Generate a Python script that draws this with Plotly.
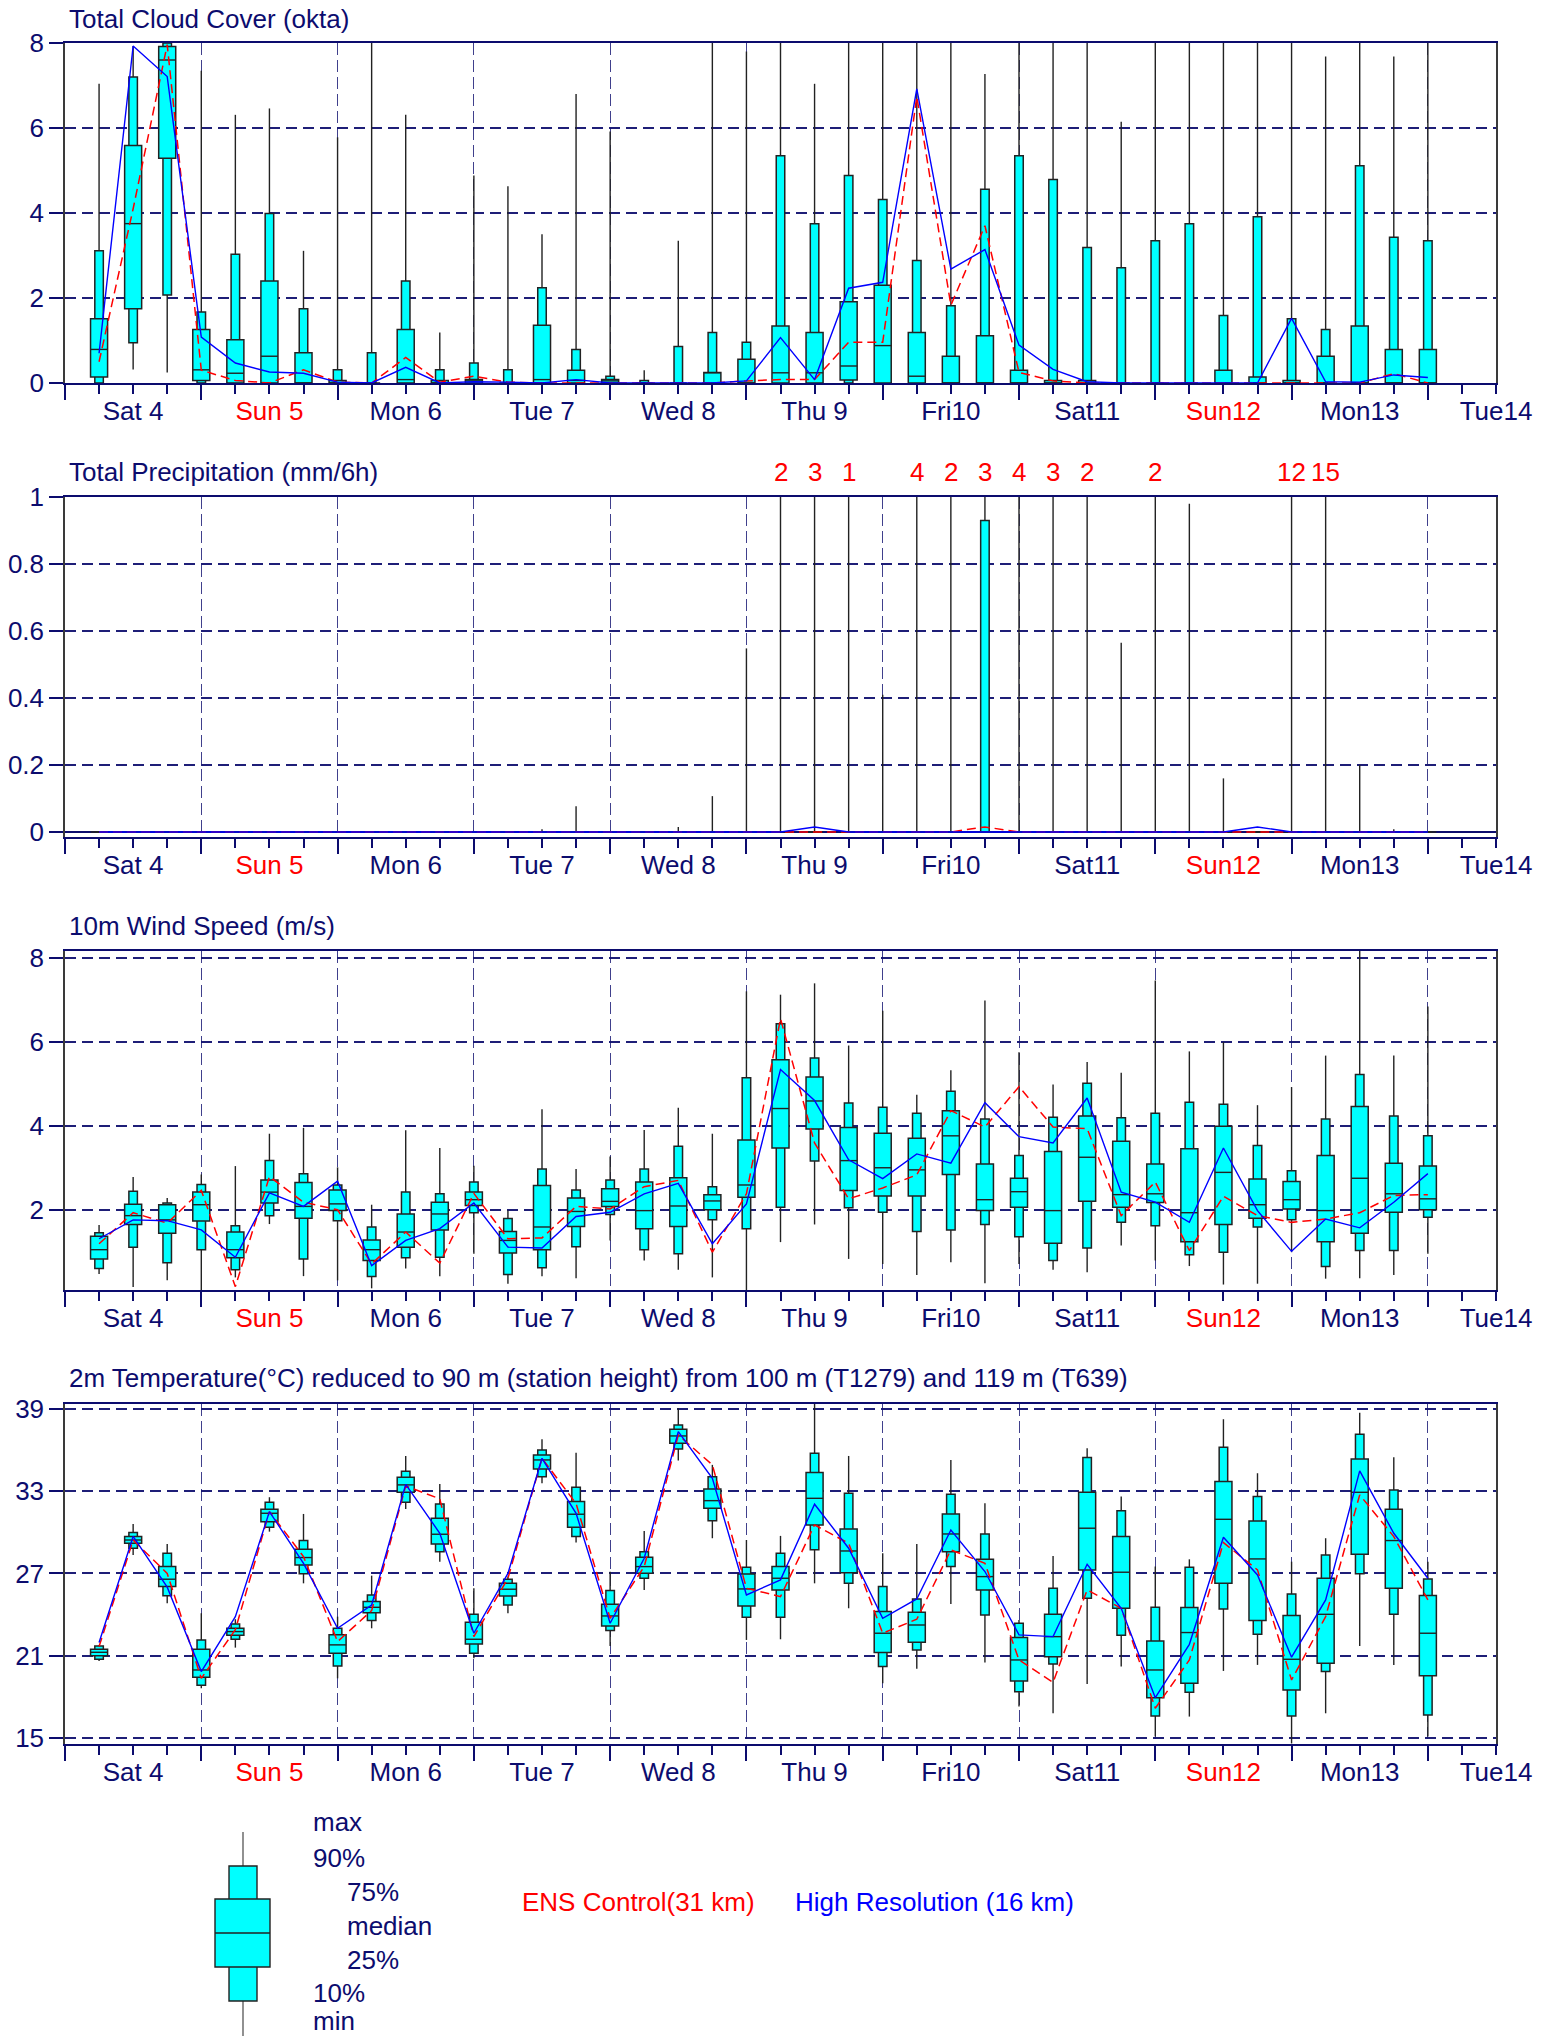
import plotly.graph_objects as go

W, H = 1546, 2038
NAVY = "#0c0c6e"
GRID = "rgba(18,18,112,0.95)"
VGRID = "rgba(30,30,120,0.85)"
CYAN = "#00FFFF"
EDGE = "#222222"
RED = "#FF0000"
BLUE = "#0000FF"
FONT = "Liberation Sans, Arial, sans-serif"

# ---------------- time axis ----------------
hours = [6, 12, 18, 24, 30, 36, 42, 48, 54, 60, 66, 72, 78, 84, 90, 96, 102, 108, 114, 120,
         126, 132, 138, 144, 150, 156, 162, 168, 174, 180, 186, 192, 198, 204, 210, 216, 222, 228, 234, 240]
day_labels = ["Sat 4", "Sun 5", "Mon 6", "Tue 7", "Wed 8", "Thu 9", "Fri10", "Sat11", "Sun12", "Mon13", "Tue14"]
day_is_sunday = [False, True, False, False, False, False, False, False, True, False, False]

# ---------------- Total cloud cover (okta) ----------------
cloud_max = [7.04, 7.93, 8.0, 7.35, 6.31, 6.46, 3.11, 5.78, 8.0, 6.31, 1.19, 4.88, 4.63, 3.5, 6.8, 5.92, 0.30, 3.35, 8.0, 7.8,
             8.0, 7.04, 8.0, 8.0, 8.0, 8.0, 7.27, 8.0, 8.0, 8.0, 6.15, 8.0, 8.0, 8.0, 8.0, 8.0, 7.68, 8.0, 7.68, 8.0]
cloud_p90 = [3.11, 7.2, 8.0, 1.67, 3.03, 3.99, 1.75, 0.31, 0.71, 2.40, 0.31, 0.47, 0.31, 2.24, 0.79, 0.16, 0.06, 0.86, 1.19, 0.96,
             5.35, 3.75, 4.88, 4.32, 2.88, 1.82, 4.56, 5.35, 4.79, 3.19, 2.71, 3.35, 3.75, 1.59, 3.91, 1.51, 1.26, 5.11, 3.43, 3.35]
cloud_p75 = [1.51, 5.59, 7.92, 1.26, 1.02, 2.40, 0.71, 0.06, 0.0, 1.26, 0.06, 0.08, 0.0, 1.36, 0.30, 0.08, 0.0, 0.0, 0.25, 0.56,
             1.34, 1.19, 1.91, 2.30, 1.19, 0.63, 1.11, 0.30, 0.06, 0.06, 0.0, 0.0, 0.0, 0.30, 0.14, 0.06, 0.63, 1.34, 0.79, 0.79]
cloud_med = [0.79, 3.75, 7.6, 0.31, 0.23, 0.63, 0.0, 0.0, 0.0, 0.08, 0.0, 0.05, 0.0, 0.08, 0.06, 0.05, 0.0, 0.0, 0.24, 0.0,
             0.24, 0.24, 0.40, 0.88, 0.16, 0.0, 0.0, 0.0, 0.0, 0.0, 0.0, 0.0, 0.0, 0.0, 0.0, 0.0, 0.0, 0.0, 0.0, 0.0]
cloud_p25 = [0.14, 1.75, 5.29, 0.06, 0.0, 0.0, 0.0, 0.0, 0.0, 0.0, 0.0, 0.0, 0.0, 0.0, 0.0, 0.0, 0.0, 0.0, 0.0, 0.0,
             0.0, 0.0, 0.07, 0.0, 0.0, 0.0, 0.0, 0.0, 0.0, 0.0, 0.0, 0.0, 0.0, 0.0, 0.0, 0.0, 0.0, 0.0, 0.0, 0.0]
cloud_p10 = [0.0, 0.95, 2.07, 0.0, 0.0, 0.0, 0.0, 0.0, 0.0, 0.0, 0.0, 0.0, 0.0, 0.0, 0.0, 0.0, 0.0, 0.0, 0.0, 0.0,
             0.0, 0.0, 0.0, 0.0, 0.0, 0.0, 0.0, 0.0, 0.0, 0.0, 0.0, 0.0, 0.0, 0.0, 0.0, 0.0, 0.0, 0.0, 0.0, 0.0]
cloud_min = [0.0, 0.32, 0.25, 0.0, 0.0, 0.0, 0.0, 0.0, 0.0, 0.0, 0.0, 0.0, 0.0, 0.0, 0.0, 0.0, 0.0, 0.0, 0.0, 0.0,
             0.0, 0.0, 0.0, 0.0, 0.0, 0.0, 0.0, 0.0, 0.0, 0.0, 0.0, 0.0, 0.0, 0.0, 0.0, 0.0, 0.0, 0.0, 0.0, 0.0]
cloud_ens = [0.5, 4.1, 7.96, 0.3, 0.06, 0.0, 0.31, 0.02, 0.0, 0.6, 0.02, 0.16, 0.02, 0.0, 0.0, 0.0, 0.0, 0.0, 0.0, 0.05,
             0.08, 0.08, 0.96, 0.96, 6.74, 1.83, 3.70, 0.25, 0.05, 0.0, 0.0, 0.0, 0.0, 0.0, 0.0, 0.0, 0.0, 0.0, 0.22, 0.0]
cloud_hres = [0.7, 7.93, 7.21, 1.08, 0.47, 0.26, 0.23, 0.02, 0.0, 0.37, 0.0, 0.03, 0.02, 0.0, 0.08, 0.0, 0.0, 0.0, 0.0, 0.05,
              1.07, 0.08, 2.23, 2.37, 6.92, 2.68, 3.14, 0.89, 0.32, 0.03, 0.0, 0.0, 0.0, 0.0, 0.0, 1.52, 0.03, 0.02, 0.19, 0.13]

# ---------------- Total precipitation (mm/6h) ----------------
prec_max = [0.0, 0.0, 0.0, 0.0, 0.0, 0.0, 0.0, 0.0, 0.0, 0.0, 0.0, 0.0, 0.0, 0.008, 0.077, 0.0, 0.0, 0.015, 0.107, 0.548,
            2.2, 3.1, 1.3, 0.41, 4.1, 2.2, 3.2, 4.2, 3.1, 2.3, 0.565, 2.1, 0.98, 0.16, 0.0, 12.4, 15.2, 0.2, 0.008, 0.0]
prec_p90 = [0.0, 0.0, 0.0, 0.0, 0.0, 0.0, 0.0, 0.0, 0.0, 0.0, 0.0, 0.0, 0.0, 0.0, 0.0, 0.0, 0.0, 0.0, 0.0, 0.0,
            0.0, 0.0, 0.0, 0.0, 0.0, 0.0, 0.93, 0.0, 0.0, 0.0, 0.0, 0.0, 0.0, 0.0, 0.0, 0.0, 0.0, 0.0, 0.0, 0.0]
prec_p75 = [0.0, 0.0, 0.0, 0.0, 0.0, 0.0, 0.0, 0.0, 0.0, 0.0, 0.0, 0.0, 0.0, 0.0, 0.0, 0.0, 0.0, 0.0, 0.0, 0.0,
            0.0, 0.0, 0.0, 0.0, 0.0, 0.0, 0.0, 0.0, 0.0, 0.0, 0.0, 0.0, 0.0, 0.0, 0.0, 0.0, 0.0, 0.0, 0.0, 0.0]
prec_med = [0.0, 0.0, 0.0, 0.0, 0.0, 0.0, 0.0, 0.0, 0.0, 0.0, 0.0, 0.0, 0.0, 0.0, 0.0, 0.0, 0.0, 0.0, 0.0, 0.0,
            0.0, 0.0, 0.0, 0.0, 0.0, 0.0, 0.0, 0.0, 0.0, 0.0, 0.0, 0.0, 0.0, 0.0, 0.0, 0.0, 0.0, 0.0, 0.0, 0.0]
prec_p25 = [0.0, 0.0, 0.0, 0.0, 0.0, 0.0, 0.0, 0.0, 0.0, 0.0, 0.0, 0.0, 0.0, 0.0, 0.0, 0.0, 0.0, 0.0, 0.0, 0.0,
            0.0, 0.0, 0.0, 0.0, 0.0, 0.0, 0.0, 0.0, 0.0, 0.0, 0.0, 0.0, 0.0, 0.0, 0.0, 0.0, 0.0, 0.0, 0.0, 0.0]
prec_p10 = [0.0, 0.0, 0.0, 0.0, 0.0, 0.0, 0.0, 0.0, 0.0, 0.0, 0.0, 0.0, 0.0, 0.0, 0.0, 0.0, 0.0, 0.0, 0.0, 0.0,
            0.0, 0.0, 0.0, 0.0, 0.0, 0.0, 0.0, 0.0, 0.0, 0.0, 0.0, 0.0, 0.0, 0.0, 0.0, 0.0, 0.0, 0.0, 0.0, 0.0]
prec_min = [0.0, 0.0, 0.0, 0.0, 0.0, 0.0, 0.0, 0.0, 0.0, 0.0, 0.0, 0.0, 0.0, 0.0, 0.0, 0.0, 0.0, 0.0, 0.0, 0.0,
            0.0, 0.0, 0.0, 0.0, 0.0, 0.0, 0.0, 0.0, 0.0, 0.0, 0.0, 0.0, 0.0, 0.0, 0.0, 0.0, 0.0, 0.0, 0.0, 0.0]
prec_ens = [0.0, 0.0, 0.0, 0.0, 0.0, 0.0, 0.0, 0.0, 0.0, 0.0, 0.0, 0.0, 0.0, 0.0, 0.0, 0.0, 0.0, 0.0, 0.0, 0.0,
            0.0, 0.0, 0.0, 0.0, 0.0, 0.0, 0.015, 0.0, 0.0, 0.0, 0.0, 0.0, 0.0, 0.0, 0.0, 0.0, 0.0, 0.0, 0.0, 0.0]
prec_hres = [0.0, 0.0, 0.0, 0.0, 0.0, 0.0, 0.0, 0.0, 0.0, 0.0, 0.0, 0.0, 0.0, 0.0, 0.0, 0.0, 0.0, 0.0, 0.0, 0.0,
             0.0, 0.015, 0.0, 0.0, 0.0, 0.0, 0.0, 0.0, 0.0, 0.0, 0.0, 0.0, 0.0, 0.0, 0.015, 0.0, 0.0, 0.0, 0.0, 0.0]

# ---------------- 10m wind speed (m/s) ----------------
wind_max = [1.65, 2.79, 2.29, 2.85, 3.05, 3.82, 3.96, 3.02, 2.13, 3.90, 3.48, 3.06, 1.99, 4.40, 2.98, 3.28, 3.91, 4.44, 3.82, 7.21,
            7.13, 7.40, 5.92, 6.75, 4.75, 5.33, 6.99, 5.76, 4.99, 5.53, 5.27, 7.47, 5.78, 6.0, 4.50, 4.93, 5.68, 8.17, 5.68, 6.85]
wind_p90 = [1.46, 2.45, 2.17, 2.61, 1.63, 3.18, 2.87, 2.60, 1.60, 2.43, 2.39, 2.67, 1.80, 2.98, 2.48, 2.72, 2.98, 3.52, 2.56, 5.15,
            6.44, 5.62, 4.55, 4.45, 4.31, 4.83, 4.17, 3.30, 4.21, 5.02, 4.20, 4.31, 4.57, 4.52, 3.54, 2.94, 4.17, 5.23, 4.24, 3.77]
wind_p75 = [1.38, 2.14, 2.13, 2.43, 1.48, 2.72, 2.66, 2.48, 1.29, 1.91, 2.19, 2.43, 1.49, 2.59, 2.29, 2.51, 2.67, 2.77, 2.37, 3.67,
            5.58, 5.17, 3.97, 3.83, 3.71, 4.37, 3.10, 2.76, 3.40, 4.24, 3.64, 3.10, 3.46, 4.0, 2.74, 2.68, 3.30, 4.47, 3.12, 3.05]
wind_med = [1.06, 1.87, 1.77, 2.13, 1.06, 2.43, 2.09, 2.15, 1.06, 1.48, 1.91, 2.25, 1.28, 1.60, 1.97, 2.21, 1.99, 2.10, 2.22, 2.60,
            4.42, 4.60, 3.18, 3.01, 2.96, 3.77, 2.25, 2.44, 1.99, 3.26, 2.37, 2.39, 1.94, 2.90, 2.13, 2.25, 1.99, 2.76, 2.39, 2.27]
wind_p25 = [0.84, 1.66, 1.45, 1.74, 0.87, 2.17, 1.81, 1.99, 0.80, 1.12, 1.53, 2.11, 0.98, 1.06, 1.61, 2.09, 1.56, 1.61, 2.01, 2.31,
            3.48, 3.93, 2.47, 2.34, 2.34, 2.85, 1.99, 2.07, 1.21, 2.21, 2.07, 2.18, 1.25, 1.66, 1.81, 2.03, 1.25, 1.45, 1.95, 2.01]
wind_p10 = [0.61, 1.12, 0.75, 1.06, 0.58, 1.87, 0.84, 1.75, 0.42, 0.87, 0.88, 1.94, 0.47, 0.63, 1.13, 1.90, 1.06, 0.96, 1.77, 1.56,
            2.07, 3.17, 2.06, 1.95, 1.49, 1.53, 1.66, 1.37, 0.80, 1.10, 1.71, 1.63, 0.94, 1.0, 1.60, 1.77, 0.66, 1.04, 1.04, 1.83]
wind_min = [0.48, 0.17, 0.33, 0.09, 0.40, 1.67, 0.43, 0.33, 0.14, 0.61, 0.43, 0.96, 0.25, 0.43, 0.38, 1.28, 0.80, 0.58, 0.40, 0.09,
            1.24, 1.66, 0.84, 0.72, 0.46, 0.76, 0.26, 0.72, 0.58, 0.52, 1.16, 0.80, 0.67, 0.23, 0.25, 1.0, 0.37, 0.38, 0.46, 0.96]
wind_ens = [1.2, 1.94, 1.69, 2.47, 0.18, 2.80, 2.19, 2.01, 0.72, 1.48, 0.74, 2.40, 1.32, 1.34, 2.09, 2.03, 2.56, 2.71, 1.0, 2.39,
            6.56, 3.6, 2.27, 2.53, 2.84, 4.37, 3.98, 4.94, 3.98, 3.94, 1.87, 2.67, 1.04, 2.33, 1.87, 1.71, 1.79, 1.94, 2.35, 2.37]
wind_hres = [1.32, 1.77, 1.75, 1.53, 0.88, 2.41, 2.09, 2.69, 0.68, 1.28, 1.56, 2.17, 1.12, 1.10, 1.85, 1.95, 2.39, 2.64, 1.2, 2.15,
             5.35, 4.61, 3.20, 2.75, 3.34, 3.12, 4.56, 3.75, 3.60, 4.67, 2.43, 2.19, 1.71, 3.48, 1.99, 1.02, 1.79, 1.58, 2.19, 2.87]

# ---------------- 2m temperature (°C) ----------------
temp_max = [21.76, 30.61, 29.15, 24.1, 23.66, 32.56, 31.34, 23.85, 26.84, 35.57, 33.53, 25.92, 26.77, 36.79, 35.81, 27.13, 30.10, 39.05, 34.92, 29.44,
            29.74, 39.36, 35.57, 28.47, 29.15, 35.28, 32.12, 23.6, 28.28, 36.13, 32.61, 27.5, 28.03, 38.25, 34.31, 27.86, 29.57, 38.73, 35.47, 27.86]
temp_p90 = [21.7, 29.98, 28.47, 22.15, 23.32, 32.19, 29.40, 23.0, 25.43, 34.45, 32.07, 24.02, 26.58, 36.01, 33.29, 25.75, 28.59, 37.83, 34.06, 27.45,
            28.47, 35.77, 32.85, 26.04, 25.14, 32.78, 29.88, 23.37, 25.92, 35.45, 31.58, 24.53, 27.45, 36.20, 32.61, 25.51, 28.35, 37.15, 33.09, 26.60]
temp_p75 = [21.47, 29.69, 27.5, 21.47, 23.0, 31.68, 28.76, 22.52, 24.95, 34.02, 31.03, 23.44, 26.28, 35.64, 32.24, 24.75, 28.18, 37.52, 33.16, 26.96,
            27.5, 34.36, 30.25, 24.22, 24.17, 31.34, 28.03, 22.32, 24.02, 32.92, 29.69, 22.08, 24.51, 33.70, 30.83, 23.93, 26.65, 35.35, 31.68, 25.39]
temp_med = [21.25, 29.44, 26.58, 19.96, 22.76, 31.39, 28.16, 21.79, 24.53, 33.46, 29.86, 22.2, 25.85, 35.28, 31.32, 23.90, 27.50, 37.03, 32.31, 25.87,
            26.65, 32.48, 28.64, 22.64, 23.24, 29.88, 26.77, 20.69, 22.39, 30.30, 27.09, 19.96, 22.69, 30.95, 28.06, 20.74, 24.02, 32.92, 29.40, 22.64]
temp_p25 = [21.0, 29.2, 26.04, 19.43, 22.49, 30.78, 27.62, 21.18, 24.14, 32.92, 29.15, 21.86, 25.36, 34.62, 30.37, 23.17, 27.01, 36.50, 31.75, 24.63,
            25.80, 30.54, 27.06, 21.23, 21.98, 28.59, 25.80, 19.16, 20.93, 27.26, 24.46, 17.94, 19.0, 26.28, 23.56, 18.50, 20.45, 28.40, 25.92, 19.53]
temp_p10 = [20.74, 28.84, 25.38, 18.84, 22.2, 30.37, 26.97, 20.25, 23.56, 32.19, 28.59, 21.18, 24.70, 34.06, 29.69, 22.83, 26.65, 36.08, 30.85, 23.80,
            23.80, 28.72, 26.28, 20.21, 21.42, 27.5, 23.97, 18.38, 20.40, 25.19, 22.49, 16.61, 18.33, 24.41, 22.56, 16.61, 19.84, 26.97, 24.02, 16.68]
temp_min = [20.62, 28.35, 24.83, 18.63, 21.59, 30.05, 26.28, 19.35, 23.0, 31.71, 27.86, 20.81, 24.10, 33.58, 29.25, 21.71, 25.80, 35.23, 29.57, 22.15,
            22.2, 26.28, 24.46, 19.0, 20.04, 24.78, 20.5, 17.29, 16.80, 18.94, 20.21, 15.10, 16.56, 19.89, 20.33, 14.6, 16.80, 21.71, 20.33, 15.10]
temp_ens = [21.67, 29.44, 27.0, 19.35, 22.9, 31.51, 28.23, 22.03, 24.29, 33.38, 32.44, 22.39, 26.65, 35.40, 32.1, 23.73, 27.5, 37.1, 34.92, 25.92,
            25.31, 30.54, 29.2, 22.64, 23.66, 28.72, 27.74, 20.69, 19.06, 25.80, 24.46, 17.17, 20.69, 29.25, 27.26, 19.23, 23.85, 32.73, 29.69, 25.07]
temp_hres = [21.96, 29.7, 26.0, 19.84, 23.85, 31.51, 27.74, 23.0, 24.7, 33.5, 29.93, 22.64, 27.0, 35.40, 31.39, 23.37, 28.11, 37.35, 33.94, 25.43,
             26.53, 32.05, 28.84, 23.73, 25.14, 30.17, 27.14, 22.52, 22.39, 27.67, 24.46, 17.94, 21.83, 29.64, 26.89, 20.89, 25.07, 34.48, 29.93, 26.65]

# ---------------- layout geometry (pixels of the 1546x2038 page) ----------------
PLOT_L, PLOT_R = 65, 1496
panels = [
    dict(title="Total Cloud Cover (okta)", top=43, bottom=383, title_y=19,
         rng=[0, 8], tickvals=[0, 2, 4, 6, 8], ticktext=["0", "2", "4", "6", "8"], zeroline=False,
         data=(cloud_min, cloud_p10, cloud_p25, cloud_med, cloud_p75, cloud_p90, cloud_max, cloud_ens, cloud_hres)),
    dict(title="Total Precipitation (mm/6h)", top=497, bottom=837, title_y=472,
         rng=[-0.015, 1.0], tickvals=[0, 0.2, 0.4, 0.6, 0.8, 1.0], ticktext=["0", "0.2", "0.4", "0.6", "0.8", "1"], zeroline=True,
         data=(prec_min, prec_p10, prec_p25, prec_med, prec_p75, prec_p90, prec_max, prec_ens, prec_hres)),
    dict(title="10m Wind Speed (m/s)", top=951, bottom=1290, title_y=926,
         rng=[0.1, 8.17], tickvals=[2, 4, 6, 8], ticktext=["2", "4", "6", "8"], zeroline=False,
         data=(wind_min, wind_p10, wind_p25, wind_med, wind_p75, wind_p90, wind_max, wind_ens, wind_hres)),
    dict(title="2m Temperature(°C) reduced to 90 m (station height) from 100 m (T1279) and 119 m (T639)",
         top=1404, bottom=1744, title_y=1378,
         rng=[14.56, 39.36], tickvals=[15, 21, 27, 33, 39], ticktext=["15", "21", "27", "33", "39"], zeroline=False,
         data=(temp_min, temp_p10, temp_p25, temp_med, temp_p75, temp_p90, temp_max, temp_ens, temp_hres)),
]

NARROW_W = 1.5   # hours
WIDE_W = 3.0     # hours

# x-axis ticks: short ticks every 6 h (labels at noon), long ticks at day boundaries
day_bounds = [24 * d for d in range(11)]
six_hourly = [h for h in range(6, 253, 6) if h % 24 != 0]
label_text = []
for h in six_hourly:
    if h % 24 == 12:
        d = h // 24
        lab = day_labels[d]
        if day_is_sunday[d]:
            lab = "<span style='color:#FF0000'>" + lab + "</span>"
        label_text.append(lab)
    else:
        label_text.append("")


def px2x(px):
    return px / W


def px2y(py):
    return 1 - py / H


fig = go.Figure()
annotations = []
layout_axes = {}

for k, p in enumerate(panels, start=1):
    xa = "x" if k == 1 else f"x{k}"
    ya = "y" if k == 1 else f"y{k}"
    mn, p10, p25, med, p75, p90, mx, ens, hres = p["data"]

    # whiskers (outside the narrow box)
    wx, wy = [], []
    for t, a, b, c, d in zip(hours, mn, p10, p90, mx):
        if d > c:
            wx += [t, t, None]
            wy += [c, d, None]
        if b > a:
            wx += [t, t, None]
            wy += [a, b, None]
    fig.add_trace(go.Scatter(x=wx, y=wy, mode="lines", line=dict(color=EDGE, width=1.4),
                             xaxis=xa, yaxis=ya, hoverinfo="skip", showlegend=False))
    # 10-90 % box
    fig.add_trace(go.Bar(x=hours, y=[b - a for a, b in zip(p10, p90)], base=p10, width=NARROW_W,
                         marker=dict(color=CYAN, line=dict(color=EDGE, width=1.5)),
                         xaxis=xa, yaxis=ya, showlegend=False, hoverinfo="skip"))
    # 25-75 % box
    fig.add_trace(go.Bar(x=hours, y=[b - a for a, b in zip(p25, p75)], base=p25, width=WIDE_W,
                         marker=dict(color=CYAN, line=dict(color=EDGE, width=1.5)),
                         xaxis=xa, yaxis=ya, showlegend=False, hoverinfo="skip"))
    # median
    mxs, mys = [], []
    for t, m, a, b in zip(hours, med, p25, p75):
        if b > a:
            mxs += [t - WIDE_W / 2, t + WIDE_W / 2, None]
            mys += [m, m, None]
    fig.add_trace(go.Scatter(x=mxs, y=mys, mode="lines", line=dict(color=EDGE, width=1.4),
                             xaxis=xa, yaxis=ya, hoverinfo="skip", showlegend=False))
    # ENS control & HRES
    fig.add_trace(go.Scatter(x=hours, y=ens, mode="lines", line=dict(color=RED, width=1.5, dash="9px,5px"),
                             xaxis=xa, yaxis=ya, showlegend=False, name="ENS Control(31 km)"))
    fig.add_trace(go.Scatter(x=hours, y=hres, mode="lines", line=dict(color=BLUE, width=1.4),
                             xaxis=xa, yaxis=ya, showlegend=False, name="High Resolution (16 km)"))

    if k == 2:
        # maxima beyond the axis top, printed in red above the panel
        for t, v in zip(hours, mx):
            if v > p["rng"][1]:
                annotations.append(dict(text=f"{v:.0f}", x=t, xref=xa, y=px2y(p["title_y"]), yref="paper",
                                        xanchor="center", yanchor="middle", showarrow=False,
                                        font=dict(family=FONT, size=26, color=RED)))

    xdom = [px2x(PLOT_L), px2x(PLOT_R)]
    ydom = [px2y(p["bottom"]), px2y(p["top"])]
    xkey = "xaxis" if k == 1 else f"xaxis{k}"
    ykey = "yaxis" if k == 1 else f"yaxis{k}"
    layout_axes[xkey] = dict(
        domain=xdom, range=[0, 252], anchor=ya, tickmode="array", automargin=False,
        tickvals=six_hourly, ticktext=label_text, ticks="outside", ticklen=9, tickwidth=1.5,
        tickcolor=NAVY, showgrid=False, zeroline=False, showline=True, linecolor=NAVY, linewidth=2,
        mirror=True, ticklabelstandoff=-5,
        tickfont=dict(family=FONT, size=26, color=NAVY),
        minor=dict(tickmode="array", tickvals=day_bounds, ticks="outside", ticklen=15, tickwidth=1.5,
                   tickcolor=NAVY, showgrid=True, gridcolor=VGRID, gridwidth=1.1, griddash="12px,5px"),
    )
    layout_axes[ykey] = dict(
        domain=ydom, range=p["rng"], anchor=xa, tickmode="array", tickvals=p["tickvals"], automargin=False,
        ticktext=p["ticktext"], ticks="outside", ticklen=14, tickwidth=1.5, tickcolor=NAVY,
        showgrid=True, gridcolor=GRID, gridwidth=1.6, griddash="11px,6px",
        zeroline=p["zeroline"], zerolinecolor=NAVY, zerolinewidth=1.6,
        showline=True, linecolor="#3a3a3a", linewidth=1.5, mirror=True,
        tickfont=dict(family=FONT, size=26, color=NAVY),
    )
    annotations.append(dict(text=p["title"], x=px2x(67), y=px2y(p["title_y"]), xref="paper", yref="paper",
                            xanchor="left", yanchor="middle", showarrow=False,
                            font=dict(family=FONT, size=26, color=NAVY)))

# ---------------- legend (illustration of the box glyph) ----------------
shapes = [
    dict(type="line", xref="paper", yref="paper", x0=px2x(243), x1=px2x(243), y0=px2y(1832), y1=px2y(2036),
         line=dict(color="#555555", width=1.3)),
    dict(type="rect", xref="paper", yref="paper", x0=px2x(229), x1=px2x(257), y0=px2y(2001), y1=px2y(1866),
         fillcolor=CYAN, line=dict(color=EDGE, width=1.4)),
    dict(type="rect", xref="paper", yref="paper", x0=px2x(215), x1=px2x(270), y0=px2y(1967), y1=px2y(1899),
         fillcolor=CYAN, line=dict(color=EDGE, width=1.4)),
    dict(type="line", xref="paper", yref="paper", x0=px2x(215), x1=px2x(270), y0=px2y(1933), y1=px2y(1933),
         line=dict(color=EDGE, width=1.4)),
]
legend_labels = [("max", 311, 1822), ("90%", 311, 1858), ("75%", 345, 1892), ("median", 345, 1926),
                 ("25%", 345, 1960), ("10%", 311, 1993), ("min", 311, 2021)]
for txt, lx, ly in legend_labels:
    annotations.append(dict(text=txt, x=px2x(lx), y=px2y(ly), xref="paper", yref="paper", xanchor="left",
                            yanchor="middle", showarrow=False, font=dict(family=FONT, size=26, color=NAVY)))
annotations.append(dict(text="ENS Control(31 km)", x=px2x(520), y=px2y(1902), xref="paper", yref="paper",
                        xanchor="left", yanchor="middle", showarrow=False,
                        font=dict(family=FONT, size=26, color=RED)))
annotations.append(dict(text="High Resolution (16 km)", x=px2x(793), y=px2y(1902), xref="paper", yref="paper",
                        xanchor="left", yanchor="middle", showarrow=False,
                        font=dict(family=FONT, size=26, color=BLUE)))

fig.update_layout(
    template="none",
    width=W, height=H, margin=dict(l=0, r=0, t=0, b=0, pad=0), autosize=False,
    paper_bgcolor="white", plot_bgcolor="white", barmode="overlay", showlegend=False,
    font=dict(family=FONT, size=26, color=NAVY),
    annotations=annotations, shapes=shapes, **layout_axes,
)

fig.write_html(
    "out.html",
    config={"displayModeBar": False},
    post_script="document.documentElement.style.margin='0';document.body.style.margin='0';"
                "document.body.style.padding='0';document.documentElement.style.overflow='hidden';",
)
